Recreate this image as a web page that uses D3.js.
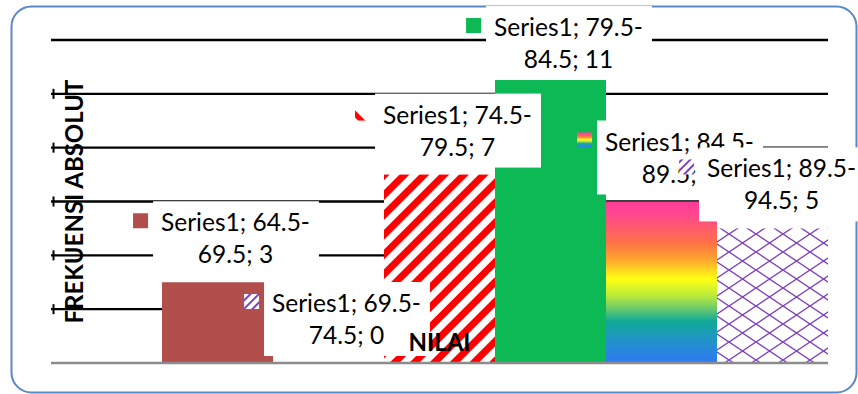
<!DOCTYPE html>
<html>
<head>
<meta charset="utf-8">
<script src="https://cdn.jsdelivr.net/npm/d3@7"></script>
<style>
  html, body { margin: 0; padding: 0; background: #fff; }
  svg { display: block; }
</style>
</head>
<body>
<div id="chart"></div>
<script>
// data
const categories = ['64.5-69.5', '69.5-74.5', '74.5-79.5', '79.5-84.5', '84.5-89.5', '89.5-94.5'];
const frequencies = [3, 0, 7, 11, 6, 5];
const seriesName = 'Series1';
const yTicks = [0, 2, 4, 6, 8, 10, 12];
const xTitle = 'NILAI';
const yTitle = 'FREKUENSI ABSOLUT';

const width = 858;
const height = 394;
const plot = {left: 51, right: 828, top: 40, bottom: 363};
const font = 'Lato, "Open Sans", sans-serif';

const barFills = ['#b24f4c', 'url(#purpleDiag)', 'url(#redStripes)', '#0cb955', 'url(#rainbow)', 'url(#lattice)'];
const keyFills = ['#b24f4c', 'url(#purpleDiag)', 'url(#redKey)', '#0cb955', 'url(#rainbow)', 'url(#purpleDiag)'];

const svg = d3.select('#chart')
  .append('svg')
  .attr('width', width)
  .attr('height', height);

const defs = svg.append('defs');

// red / white wide upward diagonal
const red = defs.append('pattern')
  .attr('id', 'redStripes')
  .attr('patternUnits', 'userSpaceOnUse')
  .attr('width', 14).attr('height', 14)
  .attr('patternTransform', 'rotate(45)');
red.append('rect').attr('width', 14).attr('height', 14).attr('fill', '#fff');
red.append('rect').attr('width', 7).attr('height', 14).attr('fill', '#ff0000');

const redKey = defs.append('pattern')
  .attr('id', 'redKey')
  .attr('patternUnits', 'userSpaceOnUse')
  .attr('width', 24).attr('height', 24)
  .attr('patternTransform', 'rotate(-45)');
redKey.append('rect').attr('width', 24).attr('height', 24).attr('fill', '#fff');
redKey.append('rect').attr('width', 5).attr('height', 24).attr('fill', '#ff0000');

const pd = defs.append('pattern')
  .attr('id', 'purpleDiag')
  .attr('patternUnits', 'userSpaceOnUse')
  .attr('width', 6).attr('height', 6)
  .attr('patternTransform', 'rotate(45)');
pd.append('rect').attr('width', 6).attr('height', 6).attr('fill', '#fff');
pd.append('rect').attr('width', 2).attr('height', 6).attr('fill', '#7e3fc0');

const lat = defs.append('pattern')
  .attr('id', 'lattice')
  .attr('patternUnits', 'userSpaceOnUse')
  .attr('width', 27).attr('height', 18);
lat.append('rect').attr('width', 27).attr('height', 18).attr('fill', '#fff');
lat.append('path')
  .attr('d', 'M0,0L27,18M0,18L27,0M-13.5,9L13.5,27M13.5,-9L40.5,9M-13.5,9L13.5,-9M13.5,27L40.5,9')
  .attr('stroke', '#7e3fc0')
  .attr('stroke-width', 1.4)
  .attr('fill', 'none');

const rainbow = defs.append('linearGradient')
  .attr('id', 'rainbow')
  .attr('x1', 0).attr('y1', 0).attr('x2', 0).attr('y2', 1);
[
  [0, '#ff3d98'], [0.08, '#ff4790'], [0.25, '#ff7048'], [0.36, '#ffa52e'],
  [0.48, '#ffff14'], [0.58, '#bdeb38'], [0.66, '#6fcb6a'], [0.74, '#10aa98'],
  [0.86, '#2093c8'], [1, '#3378f5']
].forEach(([o, c]) => rainbow.append('stop').attr('offset', o).attr('stop-color', c));

// chart border
svg.append('rect')
  .attr('x', 11.5).attr('y', 6.5)
  .attr('width', 845).attr('height', 386)
  .attr('rx', 20)
  .attr('fill', '#fff')
  .attr('stroke', '#5b88c6')
  .attr('stroke-width', 2);

// the source sheet has a blank first row, so there is an empty slot on the left
const x = d3.scaleBand()
  .domain([''].concat(categories))
  .range([plot.left, plot.right])
  .paddingInner(0)
  .paddingOuter(0);

const y = d3.scaleLinear()
  .domain([0, 12])
  .range([plot.bottom, plot.top]);

// y axis title (under the grid)
svg.append('text')
  .attr('transform', `translate(83, ${y(6)}) rotate(-90)`)
  .attr('text-anchor', 'middle')
  .attr('font-family', font)
  .attr('font-weight', 700)
  .attr('font-size', 24)
  .attr('fill', '#000')
  .text(yTitle);

// grid lines
svg.append('g')
  .selectAll('line')
  .data(yTicks.filter(d => d > 0))
  .join('line')
  .attr('x1', plot.left).attr('x2', plot.right)
  .attr('y1', d => y(d)).attr('y2', d => y(d))
  .attr('stroke', '#000')
  .attr('stroke-width', 2.4);

svg.append('g')
  .selectAll('line')
  .data(yTicks.filter(d => d > 0 && d < 12))
  .join('line')
  .attr('x1', 53.5).attr('x2', 53.5)
  .attr('y1', d => y(d) - 5).attr('y2', d => y(d) + 5)
  .attr('stroke', '#000')
  .attr('stroke-width', 2);

// bars
svg.append('g')
  .selectAll('rect')
  .data(categories)
  .join('rect')
  .attr('x', d => x(d))
  .attr('y', (d, i) => y(frequencies[i]))
  .attr('width', x.bandwidth())
  .attr('height', (d, i) => y(0) - y(frequencies[i]))
  .attr('fill', (d, i) => barFills[i]);

// base line
svg.append('line')
  .attr('x1', plot.left).attr('x2', plot.right)
  .attr('y1', y(0)).attr('y2', y(0))
  .attr('stroke', '#8c8c8c')
  .attr('stroke-width', 2.5);

// data labels, kept inside the chart area like Excel does
categories.forEach((c, i) => {
  const [lo, hi] = c.split('-');
  const base1 = Math.max(y(frequencies[i]) - 51, 36);
  const base2 = base1 + 32;
  const g = svg.append('g');
  const box = g.append('rect').attr('fill', '#fff');
  const t1 = g.append('text')
    .attr('y', base1)
    .attr('text-anchor', 'middle')
    .attr('font-family', font)
    .attr('font-size', 24.5)
    .attr('fill', '#000')
    .text(`${seriesName}; ${lo}-`);
  const t2 = g.append('text')
    .attr('y', base2)
    .attr('text-anchor', 'middle')
    .attr('font-family', font)
    .attr('font-size', 24.5)
    .attr('fill', '#000')
    .text(`${hi}; ${frequencies[i]}`);
  const w = Math.max(t1.node().getComputedTextLength(), t2.node().getComputedTextLength());
  const cx = Math.min(x(c) + x.bandwidth() / 2 + 18, width - 2 - w / 2);
  t1.attr('x', cx);
  t2.attr('x', cx);
  const left = cx - w / 2;
  box.attr('x', left - 8).attr('y', base1 - 30)
    .attr('width', w + 17).attr('height', base2 - base1 + 42);
  g.append('rect')
    .attr('x', left - 28).attr('y', base1 - 18)
    .attr('width', 15).attr('height', 15)
    .attr('fill', keyFills[i]);
});

// x axis title
svg.append('text')
  .attr('x', (plot.left + plot.right) / 2)
  .attr('y', 351)
  .attr('text-anchor', 'middle')
  .attr('font-family', font)
  .attr('font-weight', 700)
  .attr('font-size', 24)
  .attr('fill', '#000')
  .text(xTitle);
</script>
</body>
</html>
